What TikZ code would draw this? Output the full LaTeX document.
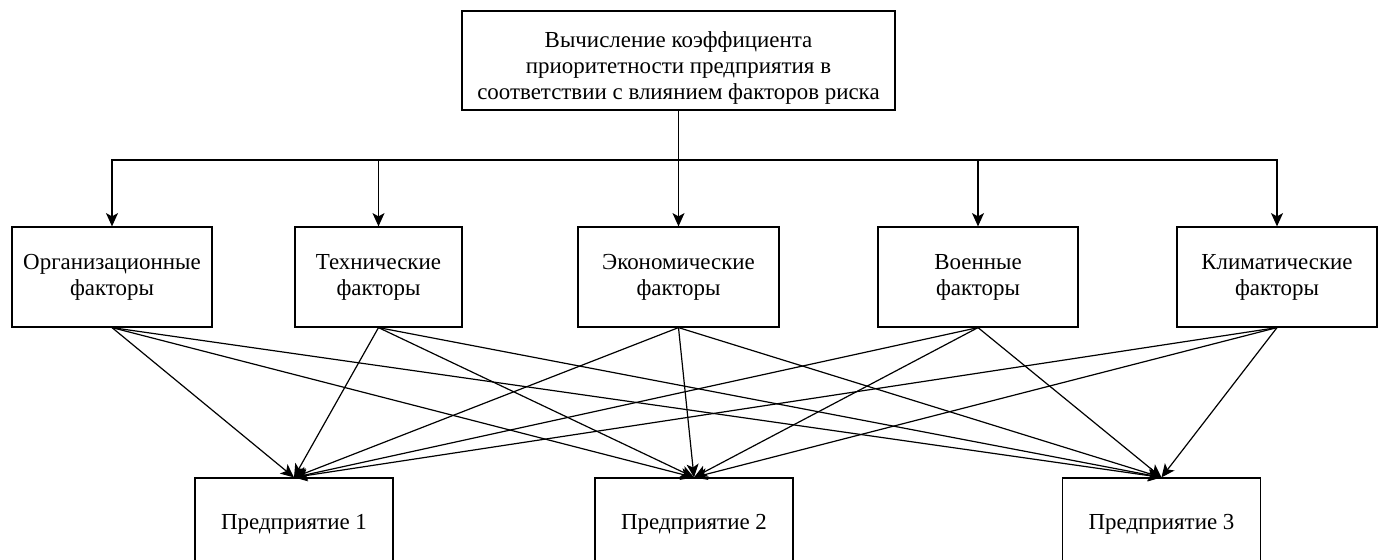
\documentclass[tikz,border=0pt]{standalone}
\usepackage{fontspec}
\setmainfont{Liberation Serif}
\usetikzlibrary{arrows.meta}
\begin{document}
\begin{tikzpicture}[x=0.75pt,y=-0.75pt,
  box/.style={draw,line width=0.9pt,rectangle,align=center,inner sep=0pt,
    font=\fontsize{17.2pt}{19.5pt}\selectfont},
  arr/.style={line width=0.9pt,-{Stealth[length=10pt,width=9pt,inset=2.5pt]}}]
\useasboundingbox (0,0) rectangle (1384,560);
\node[box,minimum width=433*0.75pt,minimum height=99*0.75pt] (top) at (678.5,60.5)
  {\raisebox{-10pt}[0pt][0pt]{\begin{tabular}{@{}c@{}}Вычисление коэффициента\\приоритетности предприятия в\\соответствии с влиянием факторов риска\end{tabular}}};
\node[box,minimum width=200*0.75pt,minimum height=100*0.75pt] (f1) at (112,277) {Организационные\\факторы};
\node[box,minimum width=167*0.75pt,minimum height=100*0.75pt] (f2) at (378.5,277) {Технические\\факторы};
\node[box,minimum width=201*0.75pt,minimum height=100*0.75pt] (f3) at (678.5,277) {Экономические\\факторы};
\node[box,minimum width=200*0.75pt,minimum height=100*0.75pt] (f4) at (978,277) {Военные\\факторы};
\node[box,minimum width=200*0.75pt,minimum height=100*0.75pt] (f5) at (1277,277) {Климатические\\факторы};
\node[box,minimum width=198*0.75pt,minimum height=100*0.75pt] (e1) at (294,528) {\raisebox{9pt}{Предприятие 1}};
\node[box,minimum width=198*0.75pt,minimum height=100*0.75pt] (e2) at (694,528) {\raisebox{9pt}{Предприятие 2}};
\node[box,minimum width=198*0.75pt,minimum height=100*0.75pt] (e3) at (1161.5,528) {\raisebox{9pt}{Предприятие 3}};
\coordinate (bus) at (0,160);
\foreach \f in {f1,f2,f3,f4,f5}
  \draw[arr] (top.south) -- (top.south |- bus) -| (\f.north);
\foreach \f in {f1,f2,f3,f4,f5}
  \foreach \e in {e1,e2,e3}
    \draw[arr] (\f.south) -- (\e.north);
\end{tikzpicture}
\end{document}
